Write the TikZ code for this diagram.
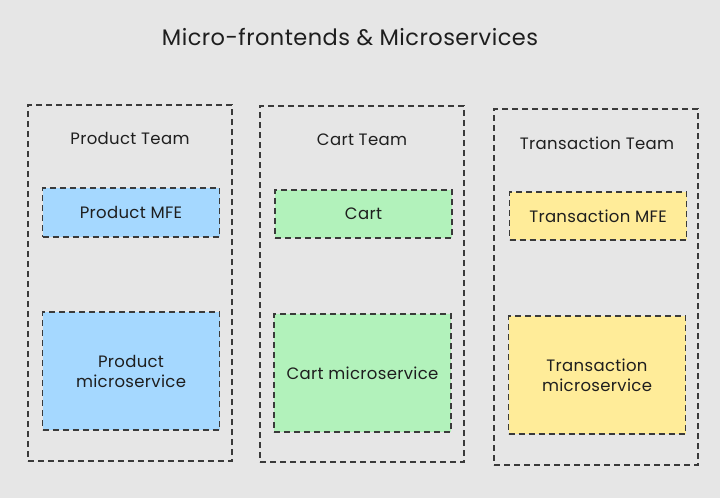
\documentclass[tikz,border=0pt]{standalone}
\usepackage{fontspec}
\setmainfont{Poppins}[LetterSpace=2]
\usepackage{xcolor}
\usepackage{tikz}
\usetikzlibrary{positioning}

\definecolor{canvas}{HTML}{E6E6E6}
\definecolor{ink}{HTML}{1E1E1E}
\definecolor{edge}{HTML}{3A3A3A}
\definecolor{mfeblue}{HTML}{A5D8FF}
\definecolor{mfegreen}{HTML}{B2F2BB}
\definecolor{mfeyellow}{HTML}{FFEC99}

\begin{document}
\begin{tikzpicture}[
  x=1pt, y=-1pt,
  font=\fontsize{16.5}{20}\selectfont,
  text=ink,
  teambox/.style={
    rectangle,
    draw=edge,
    line width=1.5pt,
    dash pattern=on 6pt off 4pt,
    inner sep=0pt,
    minimum width=204pt,
    minimum height=356pt
  },
  partbox/.style={
    rectangle,
    draw=edge,
    line width=1.5pt,
    dash pattern=on 6pt off 4pt,
    align=center,
    inner sep=0pt,
    minimum width=177pt
  },
  teamlabel/.style={font=\fontsize{16.5}{20}\selectfont}
]
  \fill[canvas] (0,0) rectangle (720,498);

  \node[font=\fontsize{22.5}{27}\selectfont] (title) at (350,37) {Micro-frontends \& Microservices};

  % team columns
  \node[teambox] (product)     at (130,283) {};
  \node[teambox] (cart)        at (362,284) {};
  \node[teambox] (transaction) at (596,287) {};

  \node[teamlabel] (productlbl)     at (130,138) {Product Team};
  \node[teamlabel] (cartlbl)        at (362,140) {Cart Team};
  \node[teamlabel] (transactionlbl) at (597,143) {Transaction Team};

  % front ends
  \node[partbox, fill=mfeblue,   minimum height=49pt] (productmfe)     at (131,212.5) {Product MFE};
  \node[partbox, fill=mfegreen,  minimum height=48pt] (cartmfe)        at (363.5,214) {Cart};
  \node[partbox, fill=mfeyellow, minimum height=48pt] (transactionmfe) at (598,216)   {Transaction MFE};

  % services
  \node[partbox, fill=mfeblue,   minimum height=118pt] (productsvc)     at (131,371)   {Product\\microservice};
  \node[partbox, fill=mfegreen,  minimum height=118pt] (cartsvc)        at (362.5,373) {Cart microservice};
  \node[partbox, fill=mfeyellow, minimum height=118pt] (transactionsvc) at (597,375)   {Transaction\\microservice};
\end{tikzpicture}
\end{document}
